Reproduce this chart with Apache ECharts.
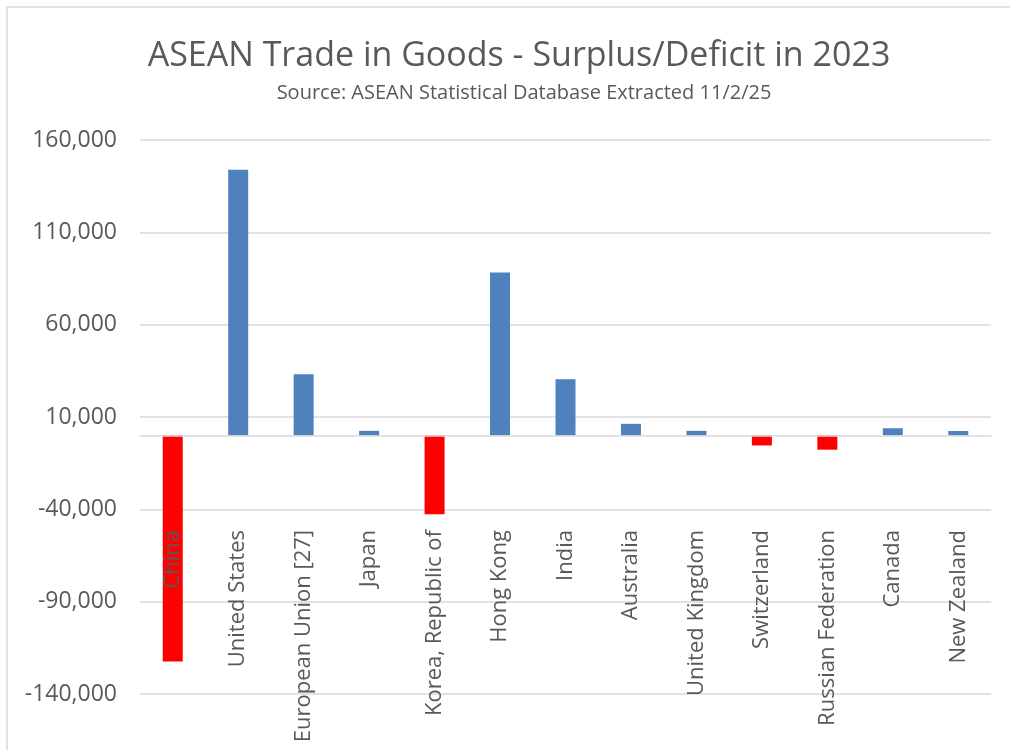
<!DOCTYPE html>
<html>
<head>
<meta charset="utf-8">
<script src="https://cdn.jsdelivr.net/npm/echarts@6/dist/echarts.min.js"></script>
<style>
  html, body { margin: 0; padding: 0; background: #ffffff; }
  #chart { width: 1010px; height: 750px; }
</style>
</head>
<body>
<div id="chart"></div>
<script>
// ASEAN trade balance in goods by partner, 2023 (US$ million)
const partners = [
  'China', 'United States', 'European Union [27]', 'Japan', 'Korea, Republic of',
  'Hong Kong', 'India', 'Australia', 'United Kingdom', 'Switzerland',
  'Russian Federation', 'Canada', 'New Zealand'
];
const balance = [
  -122400, 143900, 33200, 2500, -42700,
  88300, 30500, 6300, 2500, -5400,
  -7700, 3900, 2400
];
const yTicks = [-140000, -90000, -40000, 10000, 60000, 110000, 160000];

const FONT = '"Open Sans", "DejaVu Sans", sans-serif';
const TEXT = '#595959';
const GRID = '#d9d9d9';
const step = yTicks[1] - yTicks[0];
const yMin = yTicks[0];
const yMax = yTicks[yTicks.length - 1];

const chart = echarts.init(document.getElementById('chart'), null, { renderer: 'canvas' });

chart.setOption({
  backgroundColor: '#ffffff',
  animation: false,
  textStyle: { fontFamily: FONT },
  title: [
    {
      text: 'ASEAN Trade in Goods - Surplus/Deficit in 2023',
      left: 514, top: 34, textAlign: 'center',
      textStyle: { fontFamily: FONT, fontSize: 34, fontWeight: 'normal', color: TEXT }
    },
    {
      text: 'Source: ASEAN Statistical Database Extracted 11/2/25',
      left: 519, top: 78, textAlign: 'center',
      textStyle: { fontFamily: FONT, fontSize: 20, fontWeight: 'normal', color: TEXT }
    }
  ],
  graphic: [
    {
      type: 'rect', silent: true, z: -1,
      shape: { x: 7, y: 7, width: 1100, height: 1100 },
      style: { fill: null, stroke: GRID, lineWidth: 1.5 }
    }
  ],
  grid: {
    left: 140, right: 19, top: 140, bottom: 56,
    containLabel: false, outerBoundsMode: 'none'
  },
  xAxis: {
    type: 'category',
    data: partners,
    z: 3,
    axisLine: { show: true, onZero: true, lineStyle: { color: GRID, width: 1.5 } },
    axisTick: { show: false },
    axisLabel: {
      // labels hang from a line a little below the -40,000 gridline
      interval: 0, rotate: 90, margin: -164,
      fontFamily: FONT, fontSize: 22, color: TEXT
    },
    splitLine: { show: false }
  },
  yAxis: [
    {
      type: 'value',
      min: yMin, max: yMax, interval: 10000,
      axisLine: { show: false },
      axisTick: { show: false },
      splitLine: { show: false },
      axisLabel: {
        margin: 23, fontFamily: FONT, fontSize: 23, color: TEXT,
        formatter: v => (yTicks.includes(v) ? v.toLocaleString('en-US') : '')
      }
    },
    {
      // gridlines every tick step, measured from the bottom of the scale
      type: 'value',
      min: 0, max: yMax - yMin, interval: step,
      axisLine: { show: false },
      axisTick: { show: false },
      axisLabel: { show: false },
      splitLine: { show: true, lineStyle: { color: GRID, width: 1.5 } }
    }
  ],
  series: [
    {
      type: 'bar',
      yAxisIndex: 0,
      data: balance,
      barWidth: 20,
      itemStyle: {
        color: p => (p.value < 0 ? '#ff0000' : '#4f81bd')
      }
    }
  ]
});
</script>
</body>
</html>
